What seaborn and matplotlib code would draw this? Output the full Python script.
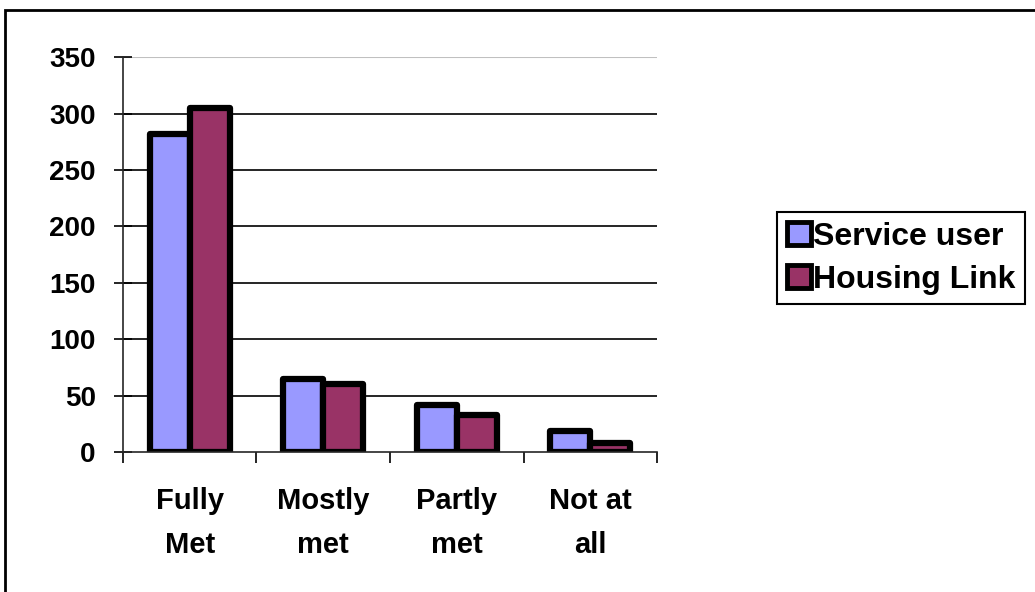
import matplotlib
matplotlib.use("Agg")
import matplotlib.pyplot as plt
import matplotlib.patches as mpatches
import seaborn as sns
import pandas as pd

# datos
categorias = ["Fully\nMet", "Mostly\nmet", "Partly\nmet", "Not at\nall"]
service_user = [282, 65, 42, 19]
housing_link = [305, 60, 33, 8]
series = ["Service user", "Housing Link"]
colores = ["#9999FF", "#993366"]

df = pd.DataFrame({
    "cat": categorias * 2,
    "valor": service_user + housing_link,
    "serie": [series[0]] * 4 + [series[1]] * 4,
})

sns.set_style("white")
plt.rcParams['font.family'] = ['Liberation Sans', 'DejaVu Sans']
plt.rcParams['font.weight'] = 'bold'
plt.rcParams['text.color'] = 'black'
plt.rcParams['xtick.color'] = 'black'
plt.rcParams['ytick.color'] = 'black'

fig = plt.figure(figsize=(10.35, 5.92), dpi=100)
ax = fig.add_axes([0.1188, 0.2365, 0.516, 0.667])

sns.barplot(data=df, x="cat", y="valor", hue="serie", palette=colores,
            width=0.6, edgecolor="black", linewidth=4.5, ax=ax, legend=False,
            saturation=1)
for p in ax.patches:
    p.set_joinstyle("round")

ax.set_xlim(-0.5, 3.5)
ax.set_ylim(0, 350)
ax.set_yticks(range(0, 351, 50))
for v in range(50, 301, 50):
    ax.axhline(v, color="black", lw=1.2, zorder=0)
ax.axhline(350, color="#c0c0c0", lw=1.5, zorder=0)

for s in ["top", "right"]:
    ax.spines[s].set_visible(False)
ax.spines["left"].set_linewidth(1.2)
ax.spines["bottom"].set_linewidth(1.2)

ax.set_xlabel("")
ax.set_ylabel("")
ax.tick_params(axis="y", which="major", direction="inout", length=13, width=1.2,
               left=True, labelsize=20, pad=13)
ax.tick_params(axis="x", which="major", length=0, labelsize=21, pad=25)
ax.set_xticks([-0.5, 0.5, 1.5, 2.5, 3.5], minor=True)
ax.tick_params(axis="x", which="minor", direction="out", length=8, width=1.2, bottom=True)
for t in ax.get_xticklabels() + ax.get_yticklabels():
    t.set_fontweight("bold")
for t in ax.get_xticklabels():
    t.set_linespacing(1.72)

# leyenda
handles = [mpatches.Patch(facecolor=c, edgecolor="black", linewidth=3.5, label=s)
           for c, s in zip(colores, series)]
fig.legend(handles=handles, loc="center left", bbox_to_anchor=(0.751, 0.564),
           frameon=True, fancybox=False, edgecolor="black", framealpha=1,
           prop={"size": 23, "weight": "bold"}, handlelength=0.75, handleheight=0.75,
           handletextpad=0.08, borderpad=0.3, labelspacing=0.4, borderaxespad=0)
fig.legends[0].get_frame().set_linewidth(1.5)

# marco exterior
fig.patches.append(mpatches.Rectangle((5 / 1035, -0.01), 1.02, 1 - 10 / 592 + 0.01,
                                      transform=fig.transFigure, fill=False,
                                      edgecolor="black", linewidth=2))

fig.savefig("out.png", dpi=100)
